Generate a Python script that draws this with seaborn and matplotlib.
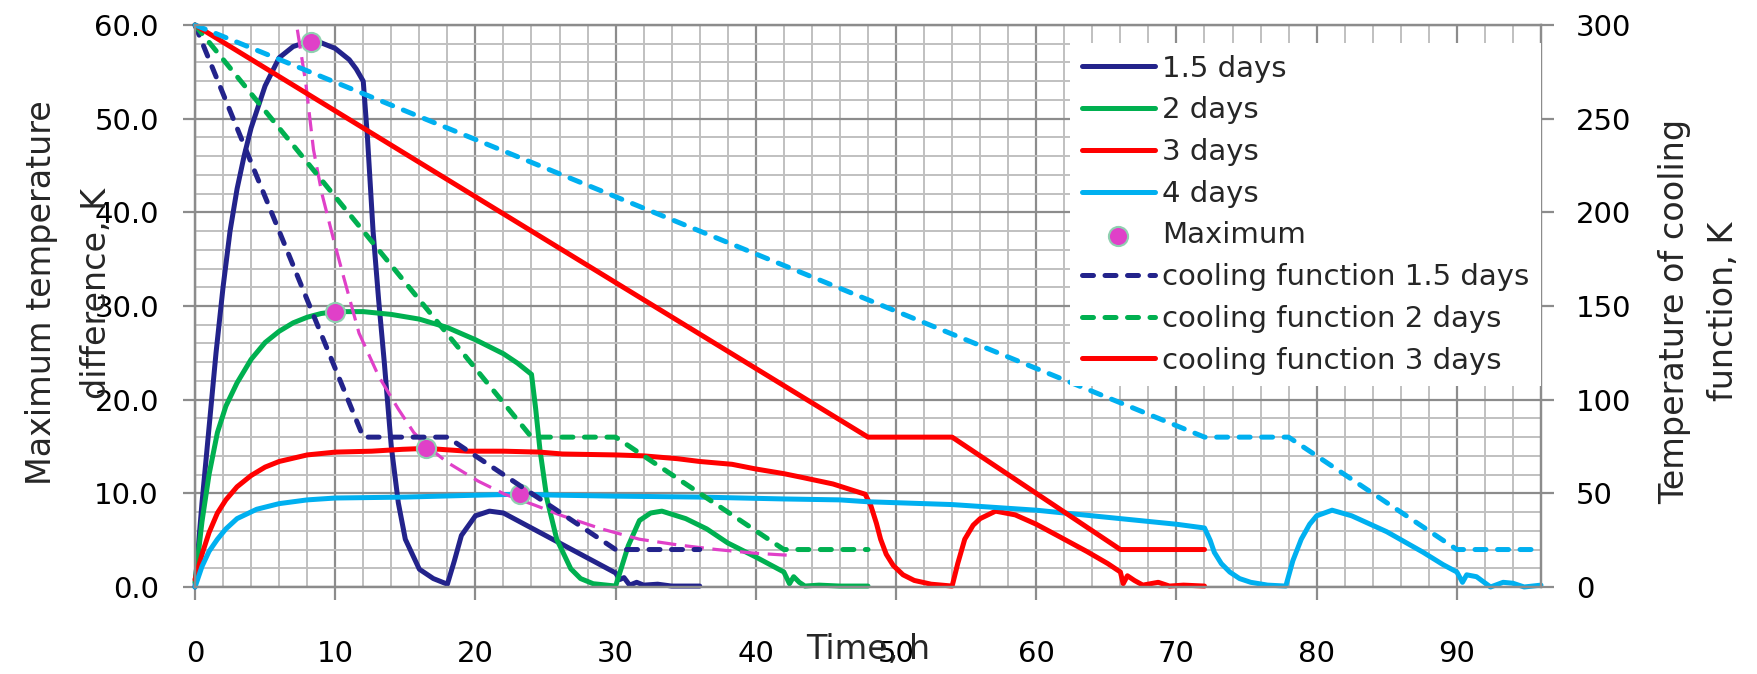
import numpy as np
import pandas as pd
import matplotlib
matplotlib.use("Agg")
import matplotlib.pyplot as plt
from matplotlib.ticker import MultipleLocator, FormatStrFormatter
import seaborn as sns

# ---------------- data ----------------
# Maximum temperature difference, K  (left axis)
t_15 = [0, 0.5, 1, 1.5, 2, 2.5, 3, 3.5, 4, 5, 6, 7, 8, 9, 10, 11, 11.5, 12, 12.3, 12.7, 13.1,
        13.5, 14, 14.5, 15, 16, 17, 18, 18.5, 19, 20, 21, 22, 23, 24, 26, 28, 30, 30.3, 30.6,
        31, 31.5, 32, 33, 34, 36]
v_15 = [0, 9, 17, 25, 32, 38, 42.5, 46, 49, 53.5, 56.5, 57.7, 58.2, 58.1, 57.5, 56.3, 55.3, 54,
        48, 38, 30.6, 24, 15, 9, 5.1, 1.9, 0.9, 0.3, 2.8, 5.5, 7.6, 8.1, 7.9, 7.1, 6.3, 4.7,
        3.1, 1.5, 0.8, 1.0, 0.2, 0.5, 0.2, 0.3, 0.1, 0.1]

t_2 = [0, 0.5, 1, 1.6, 2.2, 3, 4, 5, 6, 7, 8, 9, 10, 12, 14, 16, 18, 20, 22, 23, 24, 24.3, 24.6,
       25.1, 25.8, 26.8, 27.5, 28.4, 30, 30.4, 30.9, 31.7, 32.5, 33.3, 35, 36.5, 38, 40, 42,
       42.4, 42.7, 43.1, 43.5, 44.5, 46, 48]
v_2 = [0.5, 7, 12, 16.5, 19.3, 21.8, 24.3, 26.1, 27.3, 28.2, 28.8, 29.2, 29.4, 29.4, 29.1, 28.6,
       27.7, 26.4, 24.9, 23.9, 22.7, 19, 14.7, 9.4, 5.1, 1.95, 0.9, 0.35, 0.1, 2.0, 4.4, 7.1,
       7.9, 8.1, 7.3, 6.2, 4.7, 3.2, 1.6, 0.35, 1.1, 0.5, 0.1, 0.2, 0.1, 0.1]

t_3 = [0, 0.5, 1, 1.6, 2.2, 3, 4, 5, 6, 8, 10, 12.6, 14.8, 16.5, 19.4, 22, 24.6, 26.2, 30, 32,
       34.4, 36, 38.3, 40, 42, 43.3, 45.5, 47.8, 48.2, 48.6, 48.9, 49.3, 49.8, 50.5, 51.3, 52.5,
       54, 54.4, 54.9, 55.5, 56, 57.1, 58.5, 60, 61.5, 63.6, 65.1, 66, 66.2, 66.5, 67, 67.6,
       68.7, 69.5, 70.5, 72]
v_3 = [0.8, 3.5, 5.8, 7.9, 9.3, 10.7, 11.9, 12.8, 13.4, 14.1, 14.4, 14.5, 14.7, 14.8, 14.5, 14.5,
       14.4, 14.2, 14.1, 14.0, 13.7, 13.4, 13.1, 12.6, 12.1, 11.7, 11.0, 9.9, 8.7, 6.8, 5.1,
       3.5, 2.3, 1.3, 0.7, 0.3, 0.1, 2.5, 5.1, 6.6, 7.3, 8.1, 7.7, 6.7, 5.5, 3.8, 2.5, 1.6,
       0.35, 1.2, 0.7, 0.2, 0.5, 0.1, 0.2, 0.1]

t_4 = [0, 0.5, 1, 1.6, 2.2, 3, 4.4, 6, 8, 10, 15, 20, 23, 26, 30, 36, 42, 46, 48, 54, 60, 66, 70,
       72, 72.4, 72.7, 73.2, 73.8, 74.5, 75.3, 76.5, 77.8, 78.3, 78.9, 79.5, 80, 81.1, 82.5, 85,
       87.6, 89, 90, 90.4, 90.7, 91.4, 92.4, 93.3, 94, 94.8, 96]
v_4 = [0, 2.2, 3.8, 5.1, 6.2, 7.3, 8.3, 8.9, 9.3, 9.5, 9.6, 9.8, 9.9, 9.8, 9.7, 9.6, 9.4, 9.3,
       9.1, 8.8, 8.2, 7.3, 6.7, 6.3, 5.0, 3.7, 2.5, 1.6, 0.9, 0.5, 0.2, 0.1, 2.8, 5.1, 6.7, 7.6,
       8.2, 7.6, 5.9, 3.7, 2.4, 1.6, 0.5, 1.3, 1.1, 0.0, 0.5, 0.4, 0.0, 0.2]

# maxima and their trend
t_max = [8.3, 10.0, 16.5, 23.2]
v_max = [58.2, 29.4, 14.8, 9.9]
t_trend = [7.3, 7.9, 8.45, 9.05, 9.9, 10.6, 11.7, 13.1, 14.5, 15.6, 16.5, 18, 20.2, 22.1, 24.3,
           26.2, 29, 31.7, 34.4, 37.2, 40, 42.2]
v_trend = [59.5, 53.8, 46.7, 42, 37, 33.1, 27.1, 22.5, 19, 16.5, 15.1, 13.3, 11.3, 9.9, 8.7, 7.6,
           6.2, 5.1, 4.5, 4.0, 3.6, 3.4]

# Temperature of cooling function, K (right axis)
tc_15 = [0, 12, 18, 30, 36]
tc_2 = [0, 24, 30, 42, 48]
tc_3 = [0, 48, 54, 66, 72]
tc_4 = [0, 72, 78, 90, 96]
vc = [300, 80, 80, 20, 20]

x_ticks = [0, 10, 20, 30, 40, 50, 60, 70, 80, 90]
yl_ticks = [0, 10, 20, 30, 40, 50, 60]
yr_ticks = [0, 50, 100, 150, 200, 250, 300]

# ---------------- style ----------------
NAVY = "#23238B"
GREEN = "#00B050"
RED = "#FF0000"
CYAN = "#00B0F0"
MAG = "#E040C8"
GRID_MAJ = "#8C8C8C"
GRID_MIN = "#C0C0C0"

sns.set_theme(style="white", context="notebook")
plt.rcParams["font.family"] = ["DejaVu Sans"]

fig = plt.figure(figsize=(17.58, 6.74), dpi=100)
ax = fig.add_axes([195 / 1758, 1 - 587 / 674, (1541 - 195) / 1758, (587 - 25) / 674])
ax2 = ax.twinx()

LW = 3.6
dash_kw = dict(linestyle=(0, (2.2, 2.3)), dash_capstyle="round")

def line(a, x, y, color, label=None, **kw):
    sns.lineplot(x=x, y=y, ax=a, color=color, linewidth=LW, label=label, legend=False,
                 sort=False, estimator=None, errorbar=None, clip_on=False, **kw)

line(ax, t_15, v_15, NAVY, "1.5 days")
line(ax, t_2, v_2, GREEN, "2 days")
line(ax, t_3, v_3, RED, "3 days")
line(ax, t_4, v_4, CYAN, "4 days")
sns.lineplot(x=t_trend, y=v_trend, ax=ax, color=MAG, linewidth=2.3, legend=False, sort=False,
             estimator=None, errorbar=None, linestyle=(0, (6, 2.7)))
sns.scatterplot(x=t_max, y=v_max, ax=ax, color=MAG, s=190, edgecolor="#8FD0B0",
                linewidth=1.5, label="Maximum", legend=False, zorder=5, clip_on=False)

line(ax2, tc_15, vc, NAVY, "cooling function 1.5 days", **dash_kw)
line(ax2, tc_2, vc, GREEN, "cooling function 2 days", **dash_kw)
line(ax2, tc_3, vc, RED, "cooling function 3 days")
line(ax2, tc_4, vc, CYAN, None, **dash_kw)

# axes limits & ticks
ax.set_xlim(0, 96)
ax.set_ylim(0, 60)
ax2.set_ylim(0, 300)
ax.set_xticks(x_ticks)
ax.set_yticks(yl_ticks)
ax2.set_yticks(yr_ticks)
ax.yaxis.set_major_formatter(FormatStrFormatter("%.1f"))
ax.xaxis.set_minor_locator(MultipleLocator(2))
ax.yaxis.set_minor_locator(MultipleLocator(2))

ax.grid(which="major", color=GRID_MAJ, linewidth=1.6)
ax.grid(which="minor", color=GRID_MIN, linewidth=1.4)
ax.set_axisbelow(True)
ax2.grid(False)

for a in (ax, ax2):
    for sp in a.spines.values():
        sp.set_color(GRID_MAJ)
        sp.set_linewidth(1.6)

tick_kw = dict(direction="out", length=9, width=1.6, color=GRID_MAJ, labelcolor="black",
               labelsize=21)
ax.tick_params(axis="x", which="major", pad=29, bottom=True, **tick_kw)
ax.tick_params(axis="y", which="major", pad=17, left=True, right=False, **tick_kw)
ax.tick_params(which="minor", length=0)
ax2.tick_params(axis="y", which="major", pad=16, right=True, **tick_kw)
ax2.tick_params(which="minor", length=0)

# labels
ax.set_xlabel("Time, h", fontsize=24)
ax.xaxis.set_label_coords(0.5, -0.128)
ax.xaxis.label.set_va("baseline")
ax.set_ylabel("Maximum temperature\ndifference, K", fontsize=24, linespacing=1.85)
ax.yaxis.set_label_coords(-0.0935, 0.523)
ax.yaxis.label.set_va("center")
ax2.set_ylabel("Temperature of cooling\nfunction, K", fontsize=24, linespacing=1.6)
ax2.yaxis.set_label_coords(1.1174, 0.491)
ax2.yaxis.label.set_va("center")

# legend
h1, l1 = ax.get_legend_handles_labels()
h2, l2 = ax2.get_legend_handles_labels()
leg = ax2.legend(h1 + h2, l1 + l2, loc="upper right", bbox_to_anchor=(1.0, 0.968),
                 borderaxespad=0, fontsize=21, frameon=True, facecolor="white",
                 edgecolor="none", framealpha=1, fancybox=False, handlelength=2.5,
                 handletextpad=0.25, labelspacing=0.47, borderpad=0.4)
leg.set_zorder(10)

fig.savefig("out.png", dpi=100)
